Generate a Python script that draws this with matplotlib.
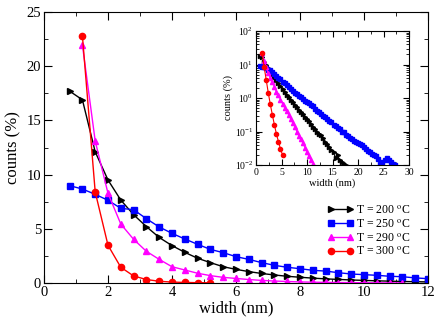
import matplotlib
matplotlib.use("Agg")
import matplotlib.pyplot as plt
import numpy as np
from matplotlib.ticker import MultipleLocator, LogLocator, NullFormatter

plt.rcParams['font.family'] = ['Liberation Serif', 'DejaVu Serif']
plt.rcParams['mathtext.fontset'] = 'stix'

labels = ["T = 200 $^{\\mathrm{o}}$C", "T = 250 $^{\\mathrm{o}}$C",
          "T = 290 $^{\\mathrm{o}}$C", "T = 300 $^{\\mathrm{o}}$C"]

x200 = [0.8, 1.2, 1.6, 2.0, 2.4, 2.8, 3.2, 3.6, 4.0, 4.4, 4.8, 5.2, 5.6, 6.0, 6.4, 6.8,
        7.2, 7.6, 8.0, 8.4, 8.8, 9.2, 9.6, 10.0, 10.4, 10.8, 11.2, 11.6, 12.0, 12.4, 12.8,
        13.2, 13.6, 14.0, 14.4, 14.8, 15.2, 15.6, 16.0, 16.4, 16.8, 17.2, 17.6]
y200 = [17.7, 16.9, 12.1, 9.5, 7.65, 6.3, 5.2, 4.2, 3.45, 2.83, 2.28, 1.88, 1.5, 1.26, 1.05, 0.88,
        0.74, 0.62, 0.53, 0.45, 0.38, 0.33, 0.28, 0.24, 0.2, 0.17, 0.14, 0.12, 0.1, 0.085, 0.08,
        0.062, 0.05, 0.042, 0.035, 0.028, 0.024, 0.016, 0.02, 0.014, 0.012, 0.011, 0.01]

x250 = [0.8, 1.2, 1.6, 2.0, 2.4, 2.8, 3.2, 3.6, 4.0, 4.4, 4.8, 5.2, 5.6, 6.0, 6.4, 6.8,
        7.2, 7.6, 8.0, 8.4, 8.8, 9.2, 9.6, 10.0, 10.4, 10.8, 11.2, 11.6, 12.0, 12.4, 12.8,
        13.2, 13.6, 14.0, 14.4, 14.8, 15.2, 15.6, 16.0, 16.4, 16.8, 17.2, 17.6, 18.0, 18.4,
        18.8, 19.2, 19.6, 20.0, 20.4, 20.8, 21.2, 21.6, 22.0, 22.4, 22.8, 23.2, 23.6, 24.0,
        24.4, 24.8, 25.2, 25.6, 26.0, 26.4, 26.8, 27.2]
y250 = [8.98, 8.67, 8.18, 7.63, 6.89, 6.76, 5.93, 5.17, 4.58, 4.06, 3.57, 3.1, 2.8, 2.43, 2.18, 1.88,
        1.63, 1.45, 1.32, 1.17, 1.1, 0.95, 0.83, 0.77, 0.71, 0.62, 0.58, 0.47, 0.4, 0.37, 0.33,
        0.3, 0.27, 0.24, 0.21, 0.19, 0.16, 0.15, 0.13, 0.12, 0.1, 0.095, 0.08, 0.075, 0.065,
        0.06, 0.052, 0.05, 0.045, 0.042, 0.04, 0.035, 0.03, 0.027, 0.024, 0.022, 0.02, 0.018, 0.015,
        0.011, 0.012, 0.014, 0.016, 0.014, 0.012, 0.011, 0.01]

x290 = [1.2, 1.6, 2.0, 2.4, 2.8, 3.2, 3.6, 4.0, 4.4, 4.8, 5.2, 5.6, 6.0, 6.4, 6.8, 7.2,
        7.6, 8.0, 8.4, 8.8, 9.2, 9.6, 10.0, 10.4, 10.8, 11.2]
y290 = [21.96, 13.1, 8.27, 5.44, 4.03, 2.92, 2.18, 1.5, 1.2, 0.9, 0.68, 0.52, 0.42, 0.32, 0.24, 0.18,
        0.14, 0.1, 0.075, 0.058, 0.045, 0.033, 0.025, 0.018, 0.014, 0.011]

x300 = [1.2, 1.6, 2.0, 2.4, 2.8, 3.2, 3.6, 4.0, 4.4, 4.8, 5.2]
y300 = [22.8, 8.4, 3.48, 1.45, 0.65, 0.32, 0.16, 0.085, 0.05, 0.03, 0.02]

series = [(x200, y200, 'black', '>'), (x250, y250, '#0000ff', 's'),
          (x290, y290, '#ff00ff', '^'), (x300, y300, '#ff0000', 'o')]

W, H = 436, 319
fig = plt.figure(figsize=(W/100, H/100), dpi=100)
ax = fig.add_axes([44/W, 1-283/H, (428-44)/W, (283-12)/H])

for (xs, ys, c, m), lab in zip(series, labels):
    ax.plot(xs, ys, color=c, marker=m, markersize=4.5, lw=1.0, label=lab, clip_on=True)

ax.set_xlim(0, 12)
ax.set_ylim(0, 25)
ax.xaxis.set_major_locator(MultipleLocator(2))
ax.xaxis.set_minor_locator(MultipleLocator(1))
ax.yaxis.set_major_locator(MultipleLocator(5))
ax.yaxis.set_minor_locator(MultipleLocator(2.5))
ax.tick_params(which='both', direction='in', top=True, right=True, labelsize=10.5, pad=2)
ax.tick_params(which='major', length=6)
ax.tick_params(which='minor', length=3)
ax.set_xlabel('width (nm)', fontsize=12, labelpad=1)
ax.set_ylabel('counts (%)', fontsize=12, labelpad=4)
leg = ax.legend(loc='lower right', bbox_to_anchor=(0.975, 0.06), frameon=False, fontsize=8.5,
                numpoints=2, handlelength=2.2, handletextpad=0.2, labelspacing=0.15,
                borderaxespad=0.3)

ins = fig.add_axes([256/W, 1-165/H, (409-256)/W, (165-31)/H])
for xs, ys, c, m in series:
    ins.plot(xs, ys, color=c, marker=m, markersize=3, lw=0.8)
ins.set_yscale('log')
ins.set_xlim(0, 30)
ins.set_ylim(1e-2, 1e2)
ins.xaxis.set_major_locator(MultipleLocator(5))
ins.xaxis.set_minor_locator(MultipleLocator(2.5))
ins.yaxis.set_major_locator(LogLocator(base=10, numticks=10))
ins.yaxis.set_minor_locator(LogLocator(base=10, subs=np.arange(2, 10), numticks=10))
ins.yaxis.set_minor_formatter(NullFormatter())
ins.tick_params(which='both', direction='in', top=True, right=True, labelsize=7, pad=2)
ins.tick_params(which='major', length=4)
ins.tick_params(which='minor', length=2)
ins.set_xlabel('width (nm)', fontsize=7.5, labelpad=1)
ins.set_ylabel('counts (%)', fontsize=7.5, labelpad=1)

fig.savefig('out.png', dpi=100)
